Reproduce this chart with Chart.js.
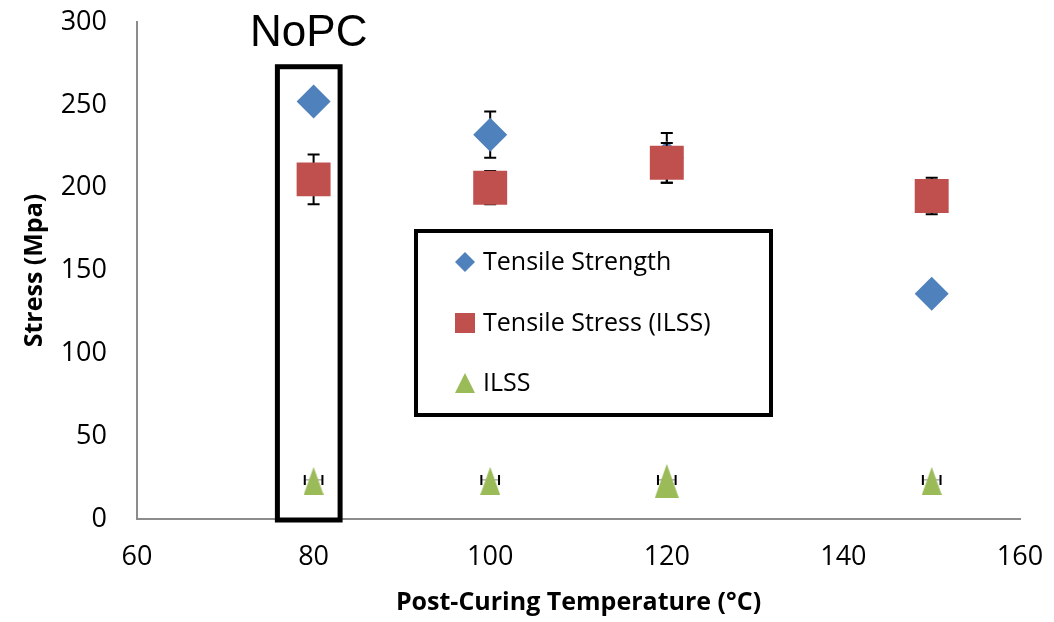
<!DOCTYPE html>
<html>
<head>
<meta charset="utf-8">
<script src="https://cdn.jsdelivr.net/npm/chart.js@4/dist/chart.umd.min.js"></script>
<style>
  html, body { margin: 0; padding: 0; background: #fff; }
  #wrap { width: 1054px; height: 622px; position: relative; }
</style>
</head>
<body>
<div id="wrap"><canvas id="chart"></canvas></div>
<script>
// data
const temps = [80, 100, 120, 150];
const tensileStrength = [252, 232, 218, 136];
const tensileStrengthErr = [5, 14, 15, 3];
const tensileStressIlss = [205, 200, 215, 195];
const tensileStressIlssErr = [15, 10, 12, 11];
const ilss = [23, 23, 23, 23];
const ilssErr = [0, 0, 0, 0];
const ilssTempErr = [1.0, 1.0, 1.0, 1.0];   // horizontal error bars
const xTicks = [60, 80, 100, 120, 140, 160];
const yTicks = [0, 50, 100, 150, 200, 250, 300];
const seriesNames = ['Tensile Strength', 'Tensile Stress (ILSS)', 'ILSS'];
const seriesColors = ['#4F81BD', '#C0504D', '#9BBB59'];
const noPcRange = [75.9, 83.0];   // x extent of the NoPC box
const noPcTop = 273;

const font = '"Open Sans", "Liberation Sans", sans-serif';

// tall green triangle like the Excel marker
function makeTriangle(w, h) {
    const c = document.createElement('canvas');
    c.width = w; c.height = h;
    const g = c.getContext('2d');
    g.fillStyle = seriesColors[2];
    g.beginPath();
    g.moveTo(w / 2, 0);
    g.lineTo(w, h);
    g.lineTo(0, h);
    g.closePath();
    g.fill();
    return c;
}
const triSmall = makeTriangle(20, 28);
const triBig = makeTriangle(24, 34);

function points(ys, errs, xErrs) {
    return temps.map((t, i) => ({ x: t, y: ys[i], err: errs[i], xErr: xErrs ? xErrs[i] : 0 }));
}

// error bars, drawn under the markers
const errorBars = {
    id: 'errorBars',
    beforeDatasetDraw(chart, args) {
        const ctx = chart.ctx;
        const meta = chart.getDatasetMeta(args.index);
        const ds = chart.data.datasets[args.index];
        const x = chart.scales.x, y = chart.scales.y;
        ctx.save();
        ctx.strokeStyle = '#000';
        meta.data.forEach((el, i) => {
            const p = ds.data[i];
            if (p.err) {
                const top = y.getPixelForValue(p.y + p.err);
                const bot = y.getPixelForValue(p.y - p.err);
                ctx.lineWidth = 2;
                ctx.beginPath();
                ctx.moveTo(el.x, top); ctx.lineTo(el.x, bot);
                ctx.moveTo(el.x - 6, top); ctx.lineTo(el.x + 6, top);
                ctx.moveTo(el.x - 6, bot); ctx.lineTo(el.x + 6, bot);
                ctx.stroke();
            }
            if (p.xErr) {
                const py = y.getPixelForValue(p.y) - 1;
                const lft = x.getPixelForValue(p.x - p.xErr);
                const rgt = x.getPixelForValue(p.x + p.xErr);
                ctx.lineWidth = 0.5;
                ctx.beginPath();
                ctx.moveTo(lft, py); ctx.lineTo(rgt, py);
                ctx.stroke();
                ctx.lineWidth = 2;
                ctx.beginPath();
                ctx.moveTo(lft, py - 5); ctx.lineTo(lft, py + 5);
                ctx.moveTo(rgt, py - 5); ctx.lineTo(rgt, py + 5);
                ctx.stroke();
            }
        });
        ctx.restore();
    }
};

// NoPC box and the boxed legend
const annotations = {
    id: 'annotations',
    afterDraw(chart) {
        const ctx = chart.ctx;
        const x = chart.scales.x, y = chart.scales.y;
        ctx.save();
        ctx.strokeStyle = '#000';
        ctx.lineWidth = 5;
        const l = x.getPixelForValue(noPcRange[0]);
        const r = x.getPixelForValue(noPcRange[1]);
        const t = y.getPixelForValue(noPcTop);
        const b = y.getPixelForValue(0) + 1;
        ctx.strokeRect(l, t, r - l, b - t);
        ctx.fillStyle = '#000';
        ctx.font = '44px "Liberation Sans", Arial, sans-serif';
        ctx.textAlign = 'center';
        ctx.textBaseline = 'alphabetic';
        ctx.fillText('NoPC', (l + r) / 2, 46);

        // legend
        ctx.lineWidth = 4;
        ctx.fillStyle = '#fff';
        ctx.fillRect(416, 231, 355, 184);
        ctx.strokeRect(416, 231, 355, 184);
        const rows = [262, 323, 383];
        ctx.font = '25px ' + font;
        ctx.textAlign = 'left';
        ctx.textBaseline = 'middle';
        rows.forEach((ry, i) => {
            const mx = 465;
            ctx.fillStyle = seriesColors[i];
            ctx.beginPath();
            if (i === 0) {
                ctx.moveTo(mx, ry - 10); ctx.lineTo(mx + 10, ry);
                ctx.lineTo(mx, ry + 10); ctx.lineTo(mx - 10, ry);
            } else if (i === 1) {
                ctx.rect(mx - 10, ry - 10, 20, 20);
            } else {
                ctx.moveTo(mx, ry - 10); ctx.lineTo(mx + 10, ry + 10);
                ctx.lineTo(mx - 10, ry + 10);
            }
            ctx.closePath();
            ctx.fill();
            ctx.fillStyle = '#000';
            ctx.fillText(seriesNames[i], 483, ry + 1);
        });
        ctx.restore();
    }
};

new Chart(document.getElementById('chart'), {
    type: 'scatter',
    data: {
        datasets: [
            {
                label: seriesNames[0],
                data: points(tensileStrength, tensileStrengthErr),
                order: 3,
                pointStyle: 'rectRot',
                pointRadius: 17,
                backgroundColor: seriesColors[0],
                borderColor: seriesColors[0],
                borderWidth: 0
            },
            {
                label: seriesNames[1],
                data: points(tensileStressIlss, tensileStressIlssErr),
                order: 2,
                pointStyle: 'rect',
                pointRadius: 24,
                backgroundColor: seriesColors[1],
                borderColor: seriesColors[1],
                borderWidth: 0
            },
            {
                label: seriesNames[2],
                data: points(ilss, ilssErr, ilssTempErr),
                order: 1,
                pointStyle: [triSmall, triSmall, triBig, triSmall],
                pointRadius: 14,
                backgroundColor: seriesColors[2],
                borderWidth: 0
            }
        ]
    },
    options: {
        responsive: true,
        maintainAspectRatio: false,
        animation: false,
        events: [],
        layout: { autoPadding: false, padding: { top: 22, right: 34, left: 0, bottom: 0 } },
        plugins: {
            legend: { display: false },
            tooltip: { enabled: false }
        },
        scales: {
            x: {
                type: 'linear',
                min: 60,
                max: 160,
                afterBuildTicks(scale) { scale.ticks = xTicks.map(v => ({ value: v })); },
                afterFit(scale) {
                    scale.height = 103;
                    scale.paddingLeft = 0;
                    scale.paddingRight = 0;
                },
                grid: { display: false, drawTicks: false },
                border: { color: '#8c8c8c', width: 2 },
                ticks: { padding: 22, color: '#000', font: { family: font, size: 27 } },
                title: {
                    display: true,
                    text: 'Post-Curing Temperature (°C)',
                    color: '#000',
                    font: { family: font, size: 25, weight: 'bold' },
                    padding: { top: 4 }
                }
            },
            y: {
                min: 0,
                max: 300,
                afterBuildTicks(scale) { scale.ticks = yTicks.map(v => ({ value: v })); },
                afterFit(scale) {
                    scale.width = 137;
                    scale.paddingTop = 0;
                    scale.paddingBottom = 0;
                },
                grid: { display: false, drawTicks: false },
                border: { color: '#8c8c8c', width: 2 },
                ticks: { padding: 30, color: '#000', font: { family: font, size: 27 } },
                title: {
                    display: true,
                    text: 'Stress (Mpa)',
                    color: '#000',
                    font: { family: font, size: 25, weight: 'bold' },
                    padding: { top: 20, bottom: 0 }
                }
            }
        }
    },
    plugins: [errorBars, annotations]
});
</script>
</body>
</html>
